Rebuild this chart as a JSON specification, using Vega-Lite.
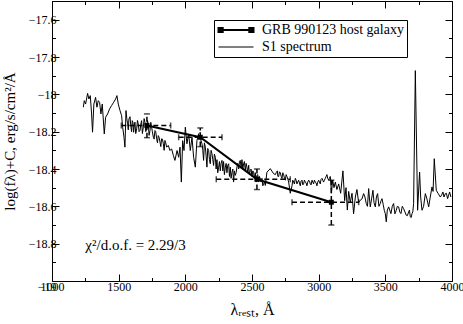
{
  "$schema": "https://vega.github.io/schema/vega-lite/v6.json",
  "width": 400,
  "height": 280,
  "autosize": {"type": "none"},
  "padding": {"left": 52, "top": 1, "right": 11, "bottom": 43},
  "background": "white",
  "config": {
    "view": {"stroke": null},
    "font": "Liberation Serif",
    "axis": {
      "grid": false,
      "domainColor": "black",
      "domainWidth": 1,
      "tickColor": "black",
      "tickWidth": 1,
      "labelFont": "Liberation Serif",
      "labelFontSize": 12,
      "labelColor": "black",
      "labelFlush": false,
      "titleFont": "Liberation Serif",
      "titleFontWeight": "normal",
      "titleColor": "black"
    }
  },
  "datasets": {
    "spectrum": [
      {"series": "S1 spectrum", "wl": 1235, "flux": -18.069},
      {"series": "S1 spectrum", "wl": 1242, "flux": -18.034},
      {"series": "S1 spectrum", "wl": 1252, "flux": -18.052},
      {"series": "S1 spectrum", "wl": 1267, "flux": -17.995},
      {"series": "S1 spectrum", "wl": 1277, "flux": -18.025},
      {"series": "S1 spectrum", "wl": 1287, "flux": -18.007},
      {"series": "S1 spectrum", "wl": 1297, "flux": -18.105},
      {"series": "S1 spectrum", "wl": 1304, "flux": -18.203},
      {"series": "S1 spectrum", "wl": 1314, "flux": -18.052},
      {"series": "S1 spectrum", "wl": 1327, "flux": -18.016},
      {"series": "S1 spectrum", "wl": 1337, "flux": -18.069},
      {"series": "S1 spectrum", "wl": 1347, "flux": -18.034},
      {"series": "S1 spectrum", "wl": 1357, "flux": -18.043},
      {"series": "S1 spectrum", "wl": 1367, "flux": -18.105},
      {"series": "S1 spectrum", "wl": 1377, "flux": -18.052},
      {"series": "S1 spectrum", "wl": 1392, "flux": -18.212},
      {"series": "S1 spectrum", "wl": 1402, "flux": -18.123},
      {"series": "S1 spectrum", "wl": 1417, "flux": -18.105},
      {"series": "S1 spectrum", "wl": 1432, "flux": -18.078},
      {"series": "S1 spectrum", "wl": 1447, "flux": -18.06},
      {"series": "S1 spectrum", "wl": 1462, "flux": -18.043},
      {"series": "S1 spectrum", "wl": 1477, "flux": -18.025},
      {"series": "S1 spectrum", "wl": 1487, "flux": -18.007},
      {"series": "S1 spectrum", "wl": 1497, "flux": -18.052},
      {"series": "S1 spectrum", "wl": 1510, "flux": -18.087},
      {"series": "S1 spectrum", "wl": 1522, "flux": -18.114},
      {"series": "S1 spectrum", "wl": 1530, "flux": -18.176},
      {"series": "S1 spectrum", "wl": 1540, "flux": -18.23},
      {"series": "S1 spectrum", "wl": 1547, "flux": -18.283},
      {"series": "S1 spectrum", "wl": 1555, "flux": -18.087},
      {"series": "S1 spectrum", "wl": 1561, "flux": -18.13},
      {"series": "S1 spectrum", "wl": 1567, "flux": -18.158},
      {"series": "S1 spectrum", "wl": 1572, "flux": -18.19},
      {"series": "S1 spectrum", "wl": 1577, "flux": -18.132},
      {"series": "S1 spectrum", "wl": 1585, "flux": -18.12},
      {"series": "S1 spectrum", "wl": 1592, "flux": -18.176},
      {"series": "S1 spectrum", "wl": 1597, "flux": -18.2},
      {"series": "S1 spectrum", "wl": 1602, "flux": -18.141},
      {"series": "S1 spectrum", "wl": 1607, "flux": -18.15},
      {"series": "S1 spectrum", "wl": 1612, "flux": -18.203},
      {"series": "S1 spectrum", "wl": 1617, "flux": -18.17},
      {"series": "S1 spectrum", "wl": 1622, "flux": -18.149},
      {"series": "S1 spectrum", "wl": 1628, "flux": -18.21},
      {"series": "S1 spectrum", "wl": 1635, "flux": -18.185},
      {"series": "S1 spectrum", "wl": 1641, "flux": -18.14},
      {"series": "S1 spectrum", "wl": 1647, "flux": -18.158},
      {"series": "S1 spectrum", "wl": 1653, "flux": -18.2},
      {"series": "S1 spectrum", "wl": 1660, "flux": -18.194},
      {"series": "S1 spectrum", "wl": 1666, "flux": -18.16},
      {"series": "S1 spectrum", "wl": 1672, "flux": -18.141},
      {"series": "S1 spectrum", "wl": 1678, "flux": -18.21},
      {"series": "S1 spectrum", "wl": 1685, "flux": -18.176},
      {"series": "S1 spectrum", "wl": 1691, "flux": -18.13},
      {"series": "S1 spectrum", "wl": 1697, "flux": -18.149},
      {"series": "S1 spectrum", "wl": 1703, "flux": -18.2},
      {"series": "S1 spectrum", "wl": 1710, "flux": -18.185},
      {"series": "S1 spectrum", "wl": 1716, "flux": -18.14},
      {"series": "S1 spectrum", "wl": 1722, "flux": -18.158},
      {"series": "S1 spectrum", "wl": 1728, "flux": -18.22},
      {"series": "S1 spectrum", "wl": 1735, "flux": -18.194},
      {"series": "S1 spectrum", "wl": 1741, "flux": -18.15},
      {"series": "S1 spectrum", "wl": 1747, "flux": -18.176},
      {"series": "S1 spectrum", "wl": 1753, "flux": -18.2},
      {"series": "S1 spectrum", "wl": 1760, "flux": -18.23},
      {"series": "S1 spectrum", "wl": 1766, "flux": -18.24},
      {"series": "S1 spectrum", "wl": 1772, "flux": -18.194},
      {"series": "S1 spectrum", "wl": 1778, "flux": -18.2},
      {"series": "S1 spectrum", "wl": 1785, "flux": -18.238},
      {"series": "S1 spectrum", "wl": 1791, "flux": -18.26},
      {"series": "S1 spectrum", "wl": 1797, "flux": -18.221},
      {"series": "S1 spectrum", "wl": 1803, "flux": -18.23},
      {"series": "S1 spectrum", "wl": 1810, "flux": -18.256},
      {"series": "S1 spectrum", "wl": 1816, "flux": -18.28},
      {"series": "S1 spectrum", "wl": 1822, "flux": -18.238},
      {"series": "S1 spectrum", "wl": 1828, "flux": -18.24},
      {"series": "S1 spectrum", "wl": 1835, "flux": -18.265},
      {"series": "S1 spectrum", "wl": 1841, "flux": -18.3},
      {"series": "S1 spectrum", "wl": 1847, "flux": -18.247},
      {"series": "S1 spectrum", "wl": 1853, "flux": -18.26},
      {"series": "S1 spectrum", "wl": 1860, "flux": -18.283},
      {"series": "S1 spectrum", "wl": 1872, "flux": -18.274},
      {"series": "S1 spectrum", "wl": 1885, "flux": -18.301},
      {"series": "S1 spectrum", "wl": 1897, "flux": -18.292},
      {"series": "S1 spectrum", "wl": 1910, "flux": -18.327},
      {"series": "S1 spectrum", "wl": 1922, "flux": -18.354},
      {"series": "S1 spectrum", "wl": 1938, "flux": -18.301},
      {"series": "S1 spectrum", "wl": 1950, "flux": -18.337},
      {"series": "S1 spectrum", "wl": 1960, "flux": -18.283},
      {"series": "S1 spectrum", "wl": 1970, "flux": -18.47},
      {"series": "S1 spectrum", "wl": 1980, "flux": -18.248},
      {"series": "S1 spectrum", "wl": 1990, "flux": -18.301},
      {"series": "S1 spectrum", "wl": 2000, "flux": -18.176},
      {"series": "S1 spectrum", "wl": 2012, "flux": -18.265},
      {"series": "S1 spectrum", "wl": 2025, "flux": -18.212},
      {"series": "S1 spectrum", "wl": 2037, "flux": -18.301},
      {"series": "S1 spectrum", "wl": 2050, "flux": -18.23},
      {"series": "S1 spectrum", "wl": 2062, "flux": -18.337},
      {"series": "S1 spectrum", "wl": 2075, "flux": -18.39},
      {"series": "S1 spectrum", "wl": 2087, "flux": -18.248},
      {"series": "S1 spectrum", "wl": 2100, "flux": -18.212},
      {"series": "S1 spectrum", "wl": 2112, "flux": -18.203},
      {"series": "S1 spectrum", "wl": 2118, "flux": -18.25},
      {"series": "S1 spectrum", "wl": 2125, "flux": -18.265},
      {"series": "S1 spectrum", "wl": 2131, "flux": -18.3},
      {"series": "S1 spectrum", "wl": 2137, "flux": -18.354},
      {"series": "S1 spectrum", "wl": 2143, "flux": -18.26},
      {"series": "S1 spectrum", "wl": 2150, "flux": -18.283},
      {"series": "S1 spectrum", "wl": 2156, "flux": -18.33},
      {"series": "S1 spectrum", "wl": 2162, "flux": -18.39},
      {"series": "S1 spectrum", "wl": 2168, "flux": -18.29},
      {"series": "S1 spectrum", "wl": 2175, "flux": -18.301},
      {"series": "S1 spectrum", "wl": 2181, "flux": -18.35},
      {"series": "S1 spectrum", "wl": 2187, "flux": -18.372},
      {"series": "S1 spectrum", "wl": 2193, "flux": -18.3},
      {"series": "S1 spectrum", "wl": 2200, "flux": -18.319},
      {"series": "S1 spectrum", "wl": 2206, "flux": -18.35},
      {"series": "S1 spectrum", "wl": 2212, "flux": -18.381},
      {"series": "S1 spectrum", "wl": 2218, "flux": -18.32},
      {"series": "S1 spectrum", "wl": 2225, "flux": -18.337},
      {"series": "S1 spectrum", "wl": 2231, "flux": -18.4},
      {"series": "S1 spectrum", "wl": 2237, "flux": -18.35},
      {"series": "S1 spectrum", "wl": 2243, "flux": -18.42},
      {"series": "S1 spectrum", "wl": 2250, "flux": -18.39},
      {"series": "S1 spectrum", "wl": 2256, "flux": -18.36},
      {"series": "S1 spectrum", "wl": 2262, "flux": -18.41},
      {"series": "S1 spectrum", "wl": 2268, "flux": -18.37},
      {"series": "S1 spectrum", "wl": 2275, "flux": -18.354},
      {"series": "S1 spectrum", "wl": 2281, "flux": -18.41},
      {"series": "S1 spectrum", "wl": 2287, "flux": -18.36},
      {"series": "S1 spectrum", "wl": 2293, "flux": -18.43},
      {"series": "S1 spectrum", "wl": 2300, "flux": -18.39},
      {"series": "S1 spectrum", "wl": 2306, "flux": -18.37},
      {"series": "S1 spectrum", "wl": 2312, "flux": -18.42},
      {"series": "S1 spectrum", "wl": 2318, "flux": -18.38},
      {"series": "S1 spectrum", "wl": 2325, "flux": -18.372},
      {"series": "S1 spectrum", "wl": 2331, "flux": -18.44},
      {"series": "S1 spectrum", "wl": 2337, "flux": -18.39},
      {"series": "S1 spectrum", "wl": 2343, "flux": -18.45},
      {"series": "S1 spectrum", "wl": 2350, "flux": -18.417},
      {"series": "S1 spectrum", "wl": 2356, "flux": -18.4},
      {"series": "S1 spectrum", "wl": 2362, "flux": -18.47},
      {"series": "S1 spectrum", "wl": 2368, "flux": -18.41},
      {"series": "S1 spectrum", "wl": 2375, "flux": -18.434},
      {"series": "S1 spectrum", "wl": 2381, "flux": -18.42},
      {"series": "S1 spectrum", "wl": 2387, "flux": -18.39},
      {"series": "S1 spectrum", "wl": 2393, "flux": -18.37},
      {"series": "S1 spectrum", "wl": 2400, "flux": -18.4},
      {"series": "S1 spectrum", "wl": 2406, "flux": -18.36},
      {"series": "S1 spectrum", "wl": 2412, "flux": -18.354},
      {"series": "S1 spectrum", "wl": 2418, "flux": -18.39},
      {"series": "S1 spectrum", "wl": 2425, "flux": -18.35},
      {"series": "S1 spectrum", "wl": 2431, "flux": -18.4},
      {"series": "S1 spectrum", "wl": 2437, "flux": -18.372},
      {"series": "S1 spectrum", "wl": 2443, "flux": -18.36},
      {"series": "S1 spectrum", "wl": 2450, "flux": -18.41},
      {"series": "S1 spectrum", "wl": 2456, "flux": -18.37},
      {"series": "S1 spectrum", "wl": 2462, "flux": -18.39},
      {"series": "S1 spectrum", "wl": 2468, "flux": -18.42},
      {"series": "S1 spectrum", "wl": 2475, "flux": -18.38},
      {"series": "S1 spectrum", "wl": 2481, "flux": -18.43},
      {"series": "S1 spectrum", "wl": 2487, "flux": -18.408},
      {"series": "S1 spectrum", "wl": 2493, "flux": -18.4},
      {"series": "S1 spectrum", "wl": 2500, "flux": -18.44},
      {"series": "S1 spectrum", "wl": 2506, "flux": -18.41},
      {"series": "S1 spectrum", "wl": 2512, "flux": -18.417},
      {"series": "S1 spectrum", "wl": 2518, "flux": -18.45},
      {"series": "S1 spectrum", "wl": 2525, "flux": -18.42},
      {"series": "S1 spectrum", "wl": 2531, "flux": -18.47},
      {"series": "S1 spectrum", "wl": 2537, "flux": -18.434},
      {"series": "S1 spectrum", "wl": 2543, "flux": -18.43},
      {"series": "S1 spectrum", "wl": 2550, "flux": -18.47},
      {"series": "S1 spectrum", "wl": 2556, "flux": -18.44},
      {"series": "S1 spectrum", "wl": 2562, "flux": -18.452},
      {"series": "S1 spectrum", "wl": 2568, "flux": -18.47},
      {"series": "S1 spectrum", "wl": 2575, "flux": -18.45},
      {"series": "S1 spectrum", "wl": 2581, "flux": -18.49},
      {"series": "S1 spectrum", "wl": 2587, "flux": -18.479},
      {"series": "S1 spectrum", "wl": 2593, "flux": -18.47},
      {"series": "S1 spectrum", "wl": 2600, "flux": -18.488},
      {"series": "S1 spectrum", "wl": 2612, "flux": -18.417},
      {"series": "S1 spectrum", "wl": 2637, "flux": -18.398},
      {"series": "S1 spectrum", "wl": 2662, "flux": -18.425},
      {"series": "S1 spectrum", "wl": 2675, "flux": -18.43},
      {"series": "S1 spectrum", "wl": 2681, "flux": -18.42},
      {"series": "S1 spectrum", "wl": 2690, "flux": -18.41},
      {"series": "S1 spectrum", "wl": 2694, "flux": -18.44},
      {"series": "S1 spectrum", "wl": 2700, "flux": -18.44},
      {"series": "S1 spectrum", "wl": 2706, "flux": -18.415},
      {"series": "S1 spectrum", "wl": 2712, "flux": -18.42},
      {"series": "S1 spectrum", "wl": 2719, "flux": -18.44},
      {"series": "S1 spectrum", "wl": 2725, "flux": -18.45},
      {"series": "S1 spectrum", "wl": 2731, "flux": -18.42},
      {"series": "S1 spectrum", "wl": 2737, "flux": -18.43},
      {"series": "S1 spectrum", "wl": 2744, "flux": -18.45},
      {"series": "S1 spectrum", "wl": 2750, "flux": -18.46},
      {"series": "S1 spectrum", "wl": 2756, "flux": -18.43},
      {"series": "S1 spectrum", "wl": 2762, "flux": -18.44},
      {"series": "S1 spectrum", "wl": 2769, "flux": -18.455},
      {"series": "S1 spectrum", "wl": 2775, "flux": -18.47},
      {"series": "S1 spectrum", "wl": 2787, "flux": -18.53},
      {"series": "S1 spectrum", "wl": 2800, "flux": -18.49},
      {"series": "S1 spectrum", "wl": 2806, "flux": -18.46},
      {"series": "S1 spectrum", "wl": 2812, "flux": -18.47},
      {"series": "S1 spectrum", "wl": 2818, "flux": -18.48},
      {"series": "S1 spectrum", "wl": 2825, "flux": -18.45},
      {"series": "S1 spectrum", "wl": 2831, "flux": -18.46},
      {"series": "S1 spectrum", "wl": 2837, "flux": -18.48},
      {"series": "S1 spectrum", "wl": 2843, "flux": -18.47},
      {"series": "S1 spectrum", "wl": 2850, "flux": -18.46},
      {"series": "S1 spectrum", "wl": 2856, "flux": -18.475},
      {"series": "S1 spectrum", "wl": 2862, "flux": -18.49},
      {"series": "S1 spectrum", "wl": 2868, "flux": -18.465},
      {"series": "S1 spectrum", "wl": 2875, "flux": -18.46},
      {"series": "S1 spectrum", "wl": 2881, "flux": -18.485},
      {"series": "S1 spectrum", "wl": 2887, "flux": -18.48},
      {"series": "S1 spectrum", "wl": 2893, "flux": -18.46},
      {"series": "S1 spectrum", "wl": 2900, "flux": -18.47},
      {"series": "S1 spectrum", "wl": 2906, "flux": -18.475},
      {"series": "S1 spectrum", "wl": 2912, "flux": -18.49},
      {"series": "S1 spectrum", "wl": 2918, "flux": -18.47},
      {"series": "S1 spectrum", "wl": 2925, "flux": -18.46},
      {"series": "S1 spectrum", "wl": 2931, "flux": -18.465},
      {"series": "S1 spectrum", "wl": 2937, "flux": -18.48},
      {"series": "S1 spectrum", "wl": 2943, "flux": -18.485},
      {"series": "S1 spectrum", "wl": 2950, "flux": -18.46},
      {"series": "S1 spectrum", "wl": 2956, "flux": -18.47},
      {"series": "S1 spectrum", "wl": 2962, "flux": -18.48},
      {"series": "S1 spectrum", "wl": 2968, "flux": -18.46},
      {"series": "S1 spectrum", "wl": 2975, "flux": -18.47},
      {"series": "S1 spectrum", "wl": 2981, "flux": -18.475},
      {"series": "S1 spectrum", "wl": 2987, "flux": -18.49},
      {"series": "S1 spectrum", "wl": 2993, "flux": -18.47},
      {"series": "S1 spectrum", "wl": 3000, "flux": -18.46},
      {"series": "S1 spectrum", "wl": 3006, "flux": -18.47},
      {"series": "S1 spectrum", "wl": 3012, "flux": -18.48},
      {"series": "S1 spectrum", "wl": 3018, "flux": -18.455},
      {"series": "S1 spectrum", "wl": 3025, "flux": -18.45},
      {"series": "S1 spectrum", "wl": 3031, "flux": -18.46},
      {"series": "S1 spectrum", "wl": 3037, "flux": -18.47},
      {"series": "S1 spectrum", "wl": 3043, "flux": -18.46},
      {"series": "S1 spectrum", "wl": 3050, "flux": -18.45},
      {"series": "S1 spectrum", "wl": 3056, "flux": -18.44},
      {"series": "S1 spectrum", "wl": 3062, "flux": -18.43},
      {"series": "S1 spectrum", "wl": 3068, "flux": -18.45},
      {"series": "S1 spectrum", "wl": 3075, "flux": -18.46},
      {"series": "S1 spectrum", "wl": 3081, "flux": -18.45},
      {"series": "S1 spectrum", "wl": 3087, "flux": -18.44},
      {"series": "S1 spectrum", "wl": 3091, "flux": -18.47},
      {"series": "S1 spectrum", "wl": 3095, "flux": -18.53},
      {"series": "S1 spectrum", "wl": 3105, "flux": -18.46},
      {"series": "S1 spectrum", "wl": 3115, "flux": -18.5},
      {"series": "S1 spectrum", "wl": 3125, "flux": -18.47},
      {"series": "S1 spectrum", "wl": 3137, "flux": -18.51},
      {"series": "S1 spectrum", "wl": 3150, "flux": -18.48},
      {"series": "S1 spectrum", "wl": 3165, "flux": -18.53},
      {"series": "S1 spectrum", "wl": 3182, "flux": -18.41},
      {"series": "S1 spectrum", "wl": 3195, "flux": -18.57},
      {"series": "S1 spectrum", "wl": 3205, "flux": -18.5},
      {"series": "S1 spectrum", "wl": 3215, "flux": -18.62},
      {"series": "S1 spectrum", "wl": 3225, "flux": -18.52},
      {"series": "S1 spectrum", "wl": 3237, "flux": -18.58},
      {"series": "S1 spectrum", "wl": 3250, "flux": -18.53},
      {"series": "S1 spectrum", "wl": 3262, "flux": -18.64},
      {"series": "S1 spectrum", "wl": 3275, "flux": -18.55},
      {"series": "S1 spectrum", "wl": 3287, "flux": -18.51},
      {"series": "S1 spectrum", "wl": 3300, "flux": -18.58},
      {"series": "S1 spectrum", "wl": 3312, "flux": -18.567},
      {"series": "S1 spectrum", "wl": 3325, "flux": -18.56},
      {"series": "S1 spectrum", "wl": 3337, "flux": -18.532},
      {"series": "S1 spectrum", "wl": 3347, "flux": -18.55},
      {"series": "S1 spectrum", "wl": 3357, "flux": -18.585},
      {"series": "S1 spectrum", "wl": 3366, "flux": -18.6},
      {"series": "S1 spectrum", "wl": 3375, "flux": -18.505},
      {"series": "S1 spectrum", "wl": 3380, "flux": -18.55},
      {"series": "S1 spectrum", "wl": 3387, "flux": -18.603},
      {"series": "S1 spectrum", "wl": 3397, "flux": -18.56},
      {"series": "S1 spectrum", "wl": 3407, "flux": -18.514},
      {"series": "S1 spectrum", "wl": 3415, "flux": -18.58},
      {"series": "S1 spectrum", "wl": 3425, "flux": -18.603},
      {"series": "S1 spectrum", "wl": 3433, "flux": -18.55},
      {"series": "S1 spectrum", "wl": 3442, "flux": -18.532},
      {"series": "S1 spectrum", "wl": 3452, "flux": -18.6},
      {"series": "S1 spectrum", "wl": 3462, "flux": -18.585},
      {"series": "S1 spectrum", "wl": 3468, "flux": -18.57},
      {"series": "S1 spectrum", "wl": 3475, "flux": -18.559},
      {"series": "S1 spectrum", "wl": 3484, "flux": -18.59},
      {"series": "S1 spectrum", "wl": 3492, "flux": -18.621},
      {"series": "S1 spectrum", "wl": 3500, "flux": -18.64},
      {"series": "S1 spectrum", "wl": 3507, "flux": -18.683},
      {"series": "S1 spectrum", "wl": 3515, "flux": -18.62},
      {"series": "S1 spectrum", "wl": 3525, "flux": -18.603},
      {"series": "S1 spectrum", "wl": 3533, "flux": -18.62},
      {"series": "S1 spectrum", "wl": 3542, "flux": -18.639},
      {"series": "S1 spectrum", "wl": 3552, "flux": -18.6},
      {"series": "S1 spectrum", "wl": 3562, "flux": -18.585},
      {"series": "S1 spectrum", "wl": 3572, "flux": -18.64},
      {"series": "S1 spectrum", "wl": 3582, "flux": -18.621},
      {"series": "S1 spectrum", "wl": 3590, "flux": -18.6},
      {"series": "S1 spectrum", "wl": 3600, "flux": -18.603},
      {"series": "S1 spectrum", "wl": 3608, "flux": -18.63},
      {"series": "S1 spectrum", "wl": 3617, "flux": -18.639},
      {"series": "S1 spectrum", "wl": 3627, "flux": -18.6},
      {"series": "S1 spectrum", "wl": 3637, "flux": -18.612},
      {"series": "S1 spectrum", "wl": 3647, "flux": -18.63},
      {"series": "S1 spectrum", "wl": 3657, "flux": -18.648},
      {"series": "S1 spectrum", "wl": 3665, "flux": -18.65},
      {"series": "S1 spectrum", "wl": 3675, "flux": -18.63},
      {"series": "S1 spectrum", "wl": 3681, "flux": -18.62},
      {"series": "S1 spectrum", "wl": 3687, "flux": -18.656},
      {"series": "S1 spectrum", "wl": 3694, "flux": -18.66},
      {"series": "S1 spectrum", "wl": 3700, "flux": -18.639},
      {"series": "S1 spectrum", "wl": 3706, "flux": -18.63},
      {"series": "S1 spectrum", "wl": 3712, "flux": -18.585},
      {"series": "S1 spectrum", "wl": 3725, "flux": -17.873},
      {"series": "S1 spectrum", "wl": 3742, "flux": -18.621},
      {"series": "S1 spectrum", "wl": 3757, "flux": -18.416},
      {"series": "S1 spectrum", "wl": 3765, "flux": -18.55},
      {"series": "S1 spectrum", "wl": 3775, "flux": -18.621},
      {"series": "S1 spectrum", "wl": 3787, "flux": -18.6},
      {"series": "S1 spectrum", "wl": 3800, "flux": -18.532},
      {"series": "S1 spectrum", "wl": 3812, "flux": -18.56},
      {"series": "S1 spectrum", "wl": 3825, "flux": -18.603},
      {"series": "S1 spectrum", "wl": 3837, "flux": -18.55},
      {"series": "S1 spectrum", "wl": 3850, "flux": -18.496},
      {"series": "S1 spectrum", "wl": 3858, "flux": -18.52},
      {"series": "S1 spectrum", "wl": 3867, "flux": -18.345},
      {"series": "S1 spectrum", "wl": 3882, "flux": -18.514},
      {"series": "S1 spectrum", "wl": 3895, "flux": -18.53},
      {"series": "S1 spectrum", "wl": 3912, "flux": -18.55},
      {"series": "S1 spectrum", "wl": 3922, "flux": -18.54},
      {"series": "S1 spectrum", "wl": 3932, "flux": -18.523},
      {"series": "S1 spectrum", "wl": 3940, "flux": -18.55},
      {"series": "S1 spectrum", "wl": 3950, "flux": -18.532},
      {"series": "S1 spectrum", "wl": 3958, "flux": -18.53},
      {"series": "S1 spectrum", "wl": 3967, "flux": -18.559},
      {"series": "S1 spectrum", "wl": 3975, "flux": -18.54},
      {"series": "S1 spectrum", "wl": 3982, "flux": -18.523},
      {"series": "S1 spectrum", "wl": 3992, "flux": -18.55}
    ],
    "host": [
      {"series": "GRB 990123 host galaxy", "wl": 1712, "flux": -18.167, "wlLo": 1520, "wlHi": 1890, "fluxLo": -18.232, "fluxHi": -18.105},
      {"series": "GRB 990123 host galaxy", "wl": 2112, "flux": -18.23, "wlLo": 1950, "wlHi": 2275, "fluxLo": -18.28, "fluxHi": -18.18},
      {"series": "GRB 990123 host galaxy", "wl": 2537, "flux": -18.455, "wlLo": 2232, "wlHi": 2787, "fluxLo": -18.51, "fluxHi": -18.4},
      {"series": "GRB 990123 host galaxy", "wl": 3095, "flux": -18.578, "wlLo": 2800, "wlHi": 3300, "fluxLo": -18.7, "fluxHi": -18.46}
    ],
    "note": [
      {"label": "χ²/d.o.f. = 2.29/3", "wl": 1250, "flux": -18.834}
    ]
  },
  "resolve": {"axis": {"x": "independent", "y": "independent"}},
  "layer": [
    {
      "data": {"name": "spectrum"},
      "mark": {"type": "line", "strokeWidth": 1, "interpolate": "linear"},
      "encoding": {
        "x": {
          "field": "wl", "type": "quantitative",
          "scale": {"domain": [1000, 4000], "nice": false, "zero": false},
          "axis": {
            "orient": "bottom",
            "values": [1000, 1500, 2000, 2500, 3000, 3500, 4000],
            "format": "d",
            "labelFont": "Liberation Serif",
            "labelFontSize": 12,
            "labelFlush": false,
            "tickSize": -7,
            "labelPadding": 7,
            "title": "λᵣₑₛₜ, Å",
            "titleFont": "Liberation Serif",
            "titleFontSize": 16,
            "titlePadding": 9
          }
        },
        "y": {
          "field": "flux", "type": "quantitative",
          "scale": {"domain": [-19, -17.5], "nice": false, "zero": false},
          "axis": {
            "orient": "left",
            "values": [-19, -18.8, -18.6, -18.4, -18.2, -18, -17.8, -17.6],
            "format": ".1~f",
            "labelFont": "Liberation Serif",
            "labelFontSize": 12,
            "labelFlush": false,
            "labelBaseline": {"condition": {"test": "datum.value <= -19", "value": "top"}, "value": "middle"},
            "tickSize": -7,
            "labelPadding": 3,
            "title": "log(fλ)+C, erg/s/cm²/Å",
            "titleFont": "Liberation Serif",
            "titleFontSize": 15,
            "titlePadding": 11
          }
        },
        "color": {
          "field": "series", "type": "nominal",
          "scale": {"domain": ["GRB 990123 host galaxy", "S1 spectrum"], "range": ["black", "black"]},
          "legend": {
            "orient": "none",
            "legendX": 162,
            "legendY": 19,
            "title": null,
            "strokeColor": "black",
            "fillColor": "white",
            "padding": 3,
            "labelFont": "Liberation Serif",
            "labelFontSize": 14,
            "labelColor": "black",
            "symbolSize": 196,
            "symbolType": "stroke",
            "symbolOffset": 12,
            "labelOffset": 19,
            "rowPadding": 3,
            "symbolStrokeColor": "black",
            "encode": {
              "symbols": {
                "update": {
                  "shape": {"signal": "datum.value === 'S1 spectrum' ? 'M-2.5,0H2.5' : 'M-2.5,0H2.5M-2.5,-0.3h0.6v0.6h-0.6zM1.9,-0.3h0.6v0.6h-0.6z'"},
                  "strokeWidth": {"signal": "datum.value === 'S1 spectrum' ? 1 : 2"},
                  "fill": {"value": "black"},
                  "stroke": {"value": "black"}
                }
              }
            }
          }
        }
      }
    },
    {
      "data": {"name": "host"},
      "mark": {"type": "line", "strokeWidth": 2, "point": {"shape": "square", "filled": true, "size": 25, "color": "black"}},
      "encoding": {
        "x": {
          "field": "wl", "type": "quantitative",
          "axis": {
            "orient": "top",
            "values": [1000, 1500, 2000, 2500, 3000, 3500, 4000],
            "labels": false,
            "title": null,
            "tickSize": -7
          }
        },
        "y": {
          "field": "flux", "type": "quantitative",
          "axis": {
            "orient": "right",
            "values": [-19, -18.8, -18.6, -18.4, -18.2, -18, -17.8, -17.6],
            "labels": false,
            "title": null,
            "tickSize": -7
          }
        },
        "color": {"field": "series", "type": "nominal"}
      }
    },
    {
      "data": {"name": "host"},
      "mark": {"type": "rule", "strokeDash": [5, 3], "strokeWidth": 1.5, "color": "black"},
      "encoding": {
        "x": {
          "field": "wlLo", "type": "quantitative",
          "axis": {"orient": "bottom", "values": [1250, 1750, 2250, 2750, 3250, 3750], "labels": false, "title": null, "domain": false, "tickSize": -3.5}
        },
        "x2": {"field": "wlHi"},
        "y": {
          "field": "flux", "type": "quantitative",
          "axis": {"orient": "left", "values": [-18.9, -18.7, -18.5, -18.3, -18.1, -17.9, -17.7, -17.5], "labels": false, "title": null, "domain": false, "tickSize": -3.5}
        }
      }
    },
    {
      "data": {"name": "host"},
      "mark": {"type": "rule", "strokeDash": [5, 3], "strokeWidth": 1.5, "color": "black"},
      "encoding": {
        "x": {
          "field": "wl", "type": "quantitative",
          "axis": {"orient": "top", "values": [1250, 1750, 2250, 2750, 3250, 3750], "labels": false, "title": null, "domain": false, "tickSize": -3.5}
        },
        "y": {
          "field": "fluxLo", "type": "quantitative",
          "axis": {"orient": "right", "values": [-18.9, -18.7, -18.5, -18.3, -18.1, -17.9, -17.7, -17.5], "labels": false, "title": null, "domain": false, "tickSize": -3.5}
        },
        "y2": {"field": "fluxHi"}
      }
    },
    {
      "data": {"name": "host"},
      "mark": {"type": "tick", "orient": "vertical", "size": 6, "thickness": 1.5, "color": "black"},
      "encoding": {
        "x": {"field": "wlLo", "type": "quantitative", "axis": null},
        "y": {"field": "flux", "type": "quantitative", "axis": null}
      }
    },
    {
      "data": {"name": "host"},
      "mark": {"type": "tick", "orient": "vertical", "size": 6, "thickness": 1.5, "color": "black"},
      "encoding": {
        "x": {"field": "wlHi", "type": "quantitative", "axis": null},
        "y": {"field": "flux", "type": "quantitative", "axis": null}
      }
    },
    {
      "data": {"name": "host"},
      "mark": {"type": "tick", "orient": "horizontal", "size": 6, "thickness": 1.5, "color": "black"},
      "encoding": {
        "x": {"field": "wl", "type": "quantitative", "axis": null},
        "y": {"field": "fluxLo", "type": "quantitative", "axis": null}
      }
    },
    {
      "data": {"name": "host"},
      "mark": {"type": "tick", "orient": "horizontal", "size": 6, "thickness": 1.5, "color": "black"},
      "encoding": {
        "x": {"field": "wl", "type": "quantitative", "axis": null},
        "y": {"field": "fluxHi", "type": "quantitative", "axis": null}
      }
    },
    {
      "data": {"name": "note"},
      "mark": {"type": "text", "align": "left", "baseline": "alphabetic", "font": "Liberation Serif", "fontSize": 15, "color": "black"},
      "encoding": {
        "x": {"field": "wl", "type": "quantitative", "axis": null},
        "y": {"field": "flux", "type": "quantitative", "axis": null},
        "text": {"field": "label"}
      }
    }
  ]
}
